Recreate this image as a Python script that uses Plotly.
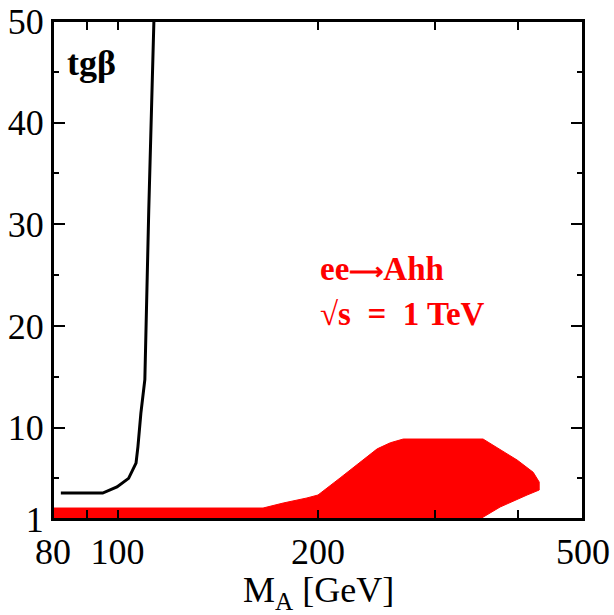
import plotly.graph_objects as go
import math

# Black curve (boundary)
line_ma = [82.2, 95.0, 99.8, 103.9, 106.6, 107.3, 108.4, 109.9, 111.4, 113.4]
line_tgb = [3.55, 3.55, 4.15, 5.0, 6.5, 8.1, 11.4, 14.7, 31.4, 50.0]

# Red region (ee -> Ahh reach), polygon outline
reg_ma = [80, 80, 165.4, 177.3, 192.5, 200, 215.9, 233.8, 245.4, 256.8, 268.6,
          353.9, 375.4, 398.2, 420.9, 429.7, 429.7, 412.1, 375.4, 350.2, 80]
reg_tgb = [1.0, 2.08, 2.08, 2.57, 3.07, 3.36, 5.04, 6.8, 7.9, 8.5, 8.87,
           8.87, 7.8, 6.8, 5.6, 4.64, 3.85, 3.36, 2.18, 1.0, 1.0]

x_tickvals = [80, 100, 200, 500]
x_ticktext = ["80", "100", "200", "500"]
x_minor = [90, 300, 400]
y_tickvals = [1, 10, 20, 30, 40, 50]
y_ticktext = ["1", "10", "20", "30", "40", "50"]
y_minor = [5, 15, 25, 35, 45]

FONT = "Liberation Serif"

fig = go.Figure()
fig.add_trace(go.Scatter(x=reg_ma, y=reg_tgb, mode="lines", fill="toself",
                         fillcolor="#ff0000", line=dict(color="#ff0000", width=1),
                         hoverinfo="skip", showlegend=False))
fig.add_trace(go.Scatter(x=line_ma, y=line_tgb, mode="lines",
                         line=dict(color="black", width=3),
                         showlegend=False))

fig.update_layout(
    width=614, height=615,
    margin=dict(l=53, r=31, t=21, b=96),
    paper_bgcolor="white", plot_bgcolor="white",
    font=dict(family=FONT, color="black"),
    xaxis=dict(type="log", range=[math.log10(80), math.log10(500)], automargin=False,
               tickmode="array", tickvals=x_tickvals, ticktext=x_ticktext,
               ticks="inside", ticklen=9, tickwidth=1.5, tickcolor="black",
               minor=dict(tickmode="array", tickvals=x_minor, ticks="inside",
                          ticklen=9, tickwidth=1.5, tickcolor="black"),
               showline=True, linecolor="black", linewidth=2, mirror="allticks",
               showgrid=False, zeroline=False,
               tickfont=dict(family=FONT, size=36, color="black")),
    yaxis=dict(range=[1, 50], automargin=False,
               tickmode="array", tickvals=y_tickvals, ticktext=y_ticktext,
               ticks="inside", ticklen=12, tickwidth=2, tickcolor="black",
               minor=dict(tickmode="array", tickvals=y_minor, ticks="inside",
                          ticklen=6, tickwidth=2, tickcolor="black"),
               showline=True, linecolor="black", linewidth=2, mirror="allticks",
               showgrid=False, zeroline=False,
               tickfont=dict(family=FONT, size=36, color="black")),
    shapes=[dict(type="rect", xref="paper", yref="paper", x0=0, y0=0, x1=1, y1=1,
                 line=dict(color="black", width=2), layer="above")],
    annotations=[
        dict(text="<b>tgβ</b>", xref="paper", yref="paper", x=0.022, y=0.915,
             xanchor="left", yanchor="middle", showarrow=False,
             font=dict(family=FONT, size=36, color="black")),
        dict(text="<b>ee<span style='font-size:24px'>⟶</span>Ahh</b>", xref="paper", yref="paper",
             x=0.5, y=0.503, xanchor="left", yanchor="middle", showarrow=False,
             font=dict(family=FONT, size=33, color="#ff0000")),
        dict(text="<b>√s\u2002=\u20021 TeV</b>", xref="paper", yref="paper", x=0.5, y=0.412,
             xanchor="left", yanchor="middle", showarrow=False,
             font=dict(family=FONT, size=33, color="#ff0000")),
        dict(text="M<sub>A</sub> [GeV]", xref="paper", yref="paper", x=0.5, y=-0.148,
             xanchor="center", yanchor="middle", showarrow=False,
             font=dict(family=FONT, size=36, color="black")),
    ],
)

fig.write_html("out.html", config={"displayModeBar": False},
               post_script="document.body.style.margin='0';document.body.style.overflow='hidden';")
